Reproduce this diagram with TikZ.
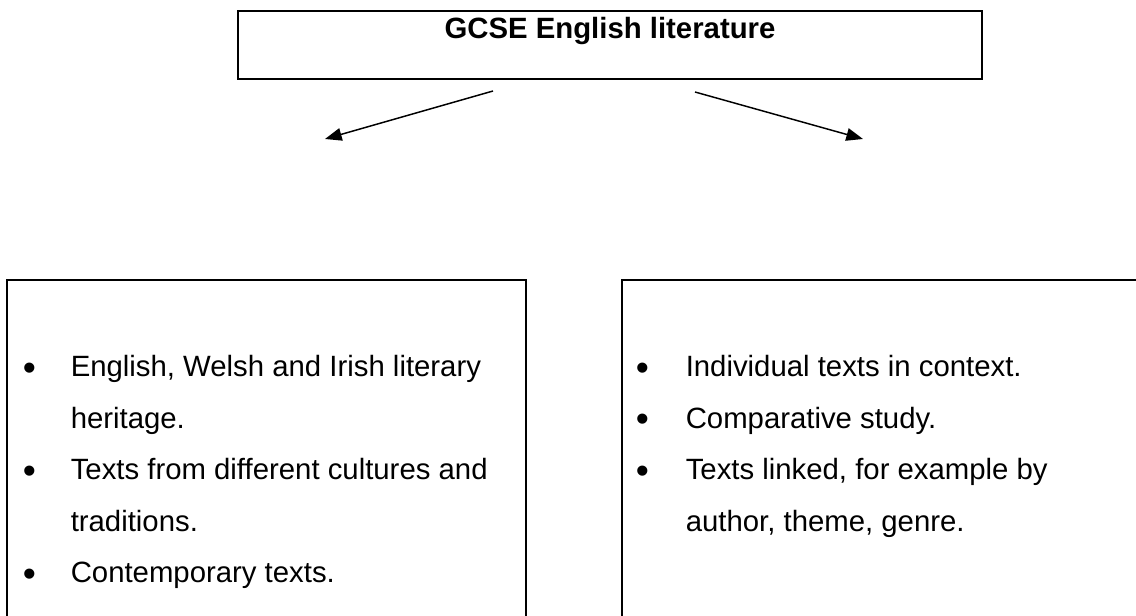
\documentclass[tikz,border=0pt]{standalone}
\usepackage{fontspec}
\setmainfont{Liberation Sans}
\usetikzlibrary{arrows.meta}
\begin{document}
\begin{tikzpicture}[x=0.75pt,y=-0.75pt,
  frame/.style={draw=black,line width=1.5pt,inner sep=0pt,outer sep=0pt,anchor=north west},
  txt/.style={anchor=base west,inner sep=0pt,font=\fontsize{22}{26}\selectfont},
  bul/.style={anchor=base,inner sep=0pt,yshift=-2.5pt,font=\fontsize{28}{30}\selectfont},
  conn/.style={line width=1.1pt,-{Triangle[length=12.5pt,width=9.5pt]}}]
\useasboundingbox (0,0) rectangle (1136,616);
\clip (0,0) rectangle (1136,616);
% top box
\node[frame,minimum width=558pt,minimum height=51pt] (top) at (238,11) {};
\node[anchor=base,inner sep=0pt,font=\fontsize{22}{26}\selectfont\bfseries] (title) at (610,39) {GCSE English literature};
% arrows
\coordinate (ls) at (493,91);
\coordinate (le) at (325,139);
\coordinate (rs) at (695,92);
\coordinate (re) at (863,139);
\draw[conn] (ls) -- (le);
\draw[conn] (rs) -- (re);
% left box
\node[frame,minimum width=389.25pt,minimum height=300pt] (lbox) at (7,280) {};
\node[bul] (lb1) at (29.5,377) {•};
\node[txt] (l1a) at (70.5,377) {English, Welsh and Irish literary};
\node[txt] (l1b) at (70.5,428.5) {heritage.};
\node[bul] (lb2) at (29.5,480) {•};
\node[txt] (l2a) at (70.5,480) {Texts from different cultures and};
\node[txt] (l2b) at (70.5,531.5) {traditions.};
\node[bul] (lb3) at (29.5,583) {•};
\node[txt] (l3a) at (70.5,583) {Contemporary texts.};
% right box
\node[frame,minimum width=450pt,minimum height=300pt] (rbox) at (622,280) {};
\node[bul] (rb1) at (642.5,377) {•};
\node[txt] (r1a) at (685.5,377) {Individual texts in context.};
\node[bul] (rb2) at (642.5,428.5) {•};
\node[txt] (r2a) at (685.5,428.5) {Comparative study.};
\node[bul] (rb3) at (642.5,480) {•};
\node[txt] (r3a) at (685.5,480) {Texts linked, for example by};
\node[txt] (r3b) at (685.5,531.5) {author, theme, genre.};
\end{tikzpicture}
\end{document}
